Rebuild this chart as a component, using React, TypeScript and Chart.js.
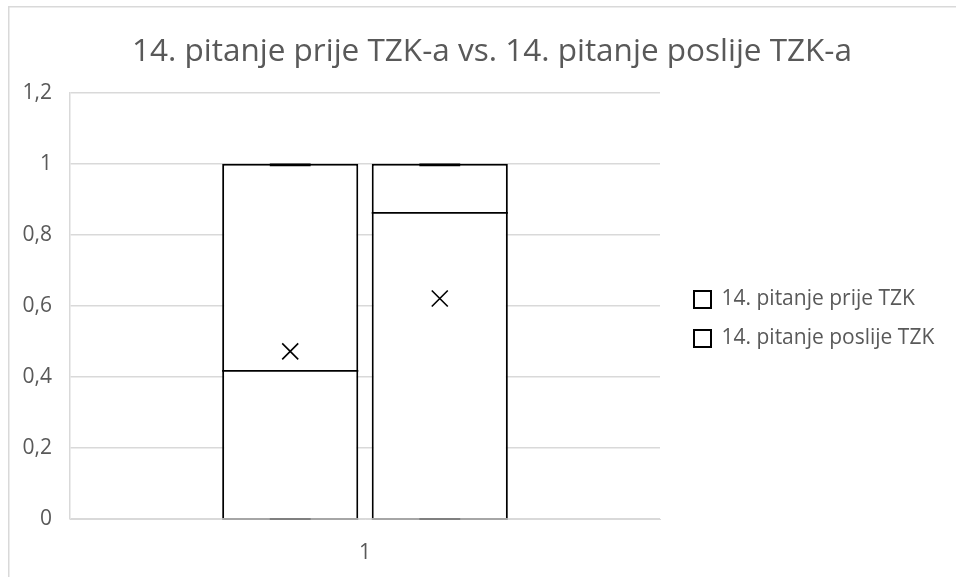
import React, { useEffect, useRef } from "react";
import { Chart, registerables } from "chart.js";

Chart.register(...registerables);

const categories = ["1"];
const seriesNames = ["14. pitanje prije TZK", "14. pitanje poslije TZK"];
const minValues = [0, 0];
const q1Values = [0, 0];
const medianValues = [0.417, 0.862];
const q3Values = [1, 1];
const maxValues = [1, 1];
const meanValues = [0.472, 0.621];
const yTickLabels = ["0", "0,2", "0,4", "0,6", "0,8", "1", "1,2"];
const titleText = "14. pitanje prije TZK-a vs. 14. pitanje poslije TZK-a";

const FONT = "'Open Sans', 'Noto Sans', sans-serif";
const TEXT = "#595959";
const GRID = "#d9d9d9";

const CANVAS_W = 968;
const CANVAS_H = 626;
const PLOT_LEFT = 62;
const PLOT_BOTTOM = 513;
const LEGEND_FONT = 21;
const LEGEND_BOX = 17;
const LEGEND_PAD = 18;
const LEGEND_BOX_X = 686;
const PLOT_RIGHT = 652;

const boxExtras = {
  id: "boxExtras",
  afterDatasetsDraw(chart: any) {
    const ctx = chart.ctx;
    const y = chart.scales.y;
    chart.data.datasets.forEach((_ds: any, i: number) => {
      const meta = chart.getDatasetMeta(i);
      meta.data.forEach((bar: any) => {
        const p = bar.getProps(["x", "width"], true);
        const left = p.x - p.width / 2;
        const right = p.x + p.width / 2;
        const capHalf = p.width * 0.15;
        ctx.save();
        const yQ1 = y.getPixelForValue(q1Values[i]);
        ctx.strokeStyle = "#a6a6a6";
        ctx.lineWidth = 2;
        ctx.beginPath();
        ctx.moveTo(left, yQ1);
        ctx.lineTo(right, yQ1);
        ctx.stroke();
        ctx.strokeStyle = "#7f7f7f";
        const yMin = y.getPixelForValue(minValues[i]);
        ctx.beginPath();
        ctx.moveTo(p.x - capHalf, yMin);
        ctx.lineTo(p.x + capHalf, yMin);
        ctx.stroke();
        ctx.strokeStyle = "#000";
        ctx.lineWidth = 2.6;
        const yMax = y.getPixelForValue(maxValues[i]);
        ctx.beginPath();
        ctx.moveTo(p.x - capHalf, yMax + 1);
        ctx.lineTo(p.x + capHalf, yMax + 1);
        ctx.stroke();
        const yMed = y.getPixelForValue(medianValues[i]);
        ctx.lineWidth = 1.8;
        ctx.beginPath();
        ctx.moveTo(left, yMed);
        ctx.lineTo(right, yMed);
        ctx.stroke();
        const yMean = y.getPixelForValue(meanValues[i]);
        const r = 8;
        ctx.lineWidth = 1.6;
        ctx.beginPath();
        ctx.moveTo(p.x - r, yMean - r);
        ctx.lineTo(p.x + r, yMean + r);
        ctx.moveTo(p.x + r, yMean - r);
        ctx.lineTo(p.x - r, yMean + r);
        ctx.stroke();
        ctx.restore();
      });
    });
  },
};

const frame = {
  id: "frame",
  beforeDraw(chart: any) {
    const ctx = chart.ctx;
    ctx.save();
    ctx.fillStyle = "#fff";
    ctx.fillRect(0, 0, chart.width, chart.height);
    ctx.restore();
  },
  afterDraw(chart: any) {
    const ctx = chart.ctx;
    ctx.save();
    ctx.strokeStyle = GRID;
    ctx.lineWidth = 1.5;
    ctx.strokeRect(0.75, 0.75, chart.width - 1.5, chart.height - 1.5);
    ctx.restore();
  },
};

function measureLegend(): number {
  const c = document.createElement("canvas").getContext("2d");
  if (!c) return 200;
  c.font = `normal ${LEGEND_FONT}px ${FONT}`;
  return Math.max(...seriesNames.map((s) => c.measureText(s).width));
}

export default function App() {
  const ref = useRef<HTMLCanvasElement | null>(null);
  useEffect(() => {
    if (!ref.current) return;
    const itemW = LEGEND_BOX + LEGEND_FONT / 2 + measureLegend();
    const legendLeft = LEGEND_BOX_X - LEGEND_PAD;
    const legendW = LEGEND_PAD + itemW + 10;
    const outerSpacer = Math.max(0, CANVAS_W - legendLeft - legendW);
    const innerGap = legendLeft - PLOT_RIGHT;
    const chart = new Chart(ref.current, {
      type: "bar",
      data: {
        labels: categories,
        datasets: seriesNames.map((name, i) => ({
          label: name,
          data: [[q1Values[i], q3Values[i]]],
          backgroundColor: "#ffffff",
          borderColor: "#000000",
          borderWidth: 2,
          borderSkipped: "start",
        })) as any,
      },
      options: {
        responsive: false,
        animation: false,
        categoryPercentage: 0.507,
        barPercentage: 0.91,
        layout: { padding: 0 },
        plugins: {
          title: {
            display: true,
            text: titleText,
            color: TEXT,
            font: { family: FONT, size: 31.5, weight: "normal" },
            padding: { top: 27, bottom: 22 },
          },
          legend: {
            position: "right",
            align: "center",
            maxWidth: 600,
            labels: {
              color: TEXT,
              font: { family: FONT, size: LEGEND_FONT },
              boxWidth: LEGEND_BOX,
              boxHeight: LEGEND_BOX,
              padding: LEGEND_PAD,
            },
          },
          tooltip: { enabled: false },
        },
        scales: {
          x: {
            grid: { display: false },
            border: { display: true, color: GRID },
            ticks: { color: TEXT, font: { family: FONT, size: 21 }, padding: 13 },
            afterFit: (s: any) => {
              s.height = CANVAS_H - PLOT_BOTTOM;
            },
          },
          y: {
            min: 0,
            max: 1.2,
            grid: { color: GRID, lineWidth: 1.5, drawTicks: false },
            border: { display: true, color: GRID, width: 1.5 },
            ticks: {
              stepSize: 0.2,
              color: TEXT,
              font: { family: FONT, size: 21 },
              padding: 18,
              callback: (_v: any, idx: number) => yTickLabels[idx],
            },
            afterFit: (s: any) => {
              s.width = PLOT_LEFT;
            },
          },
          gapInner: {
            type: "linear",
            position: "right",
            weight: 0,
            display: true,
            grid: { display: false },
            border: { display: false },
            ticks: { display: false },
            afterFit: (s: any) => {
              s.width = innerGap;
            },
          },
          gapOuter: {
            type: "linear",
            position: "right",
            weight: 3000,
            display: true,
            grid: { display: false },
            border: { display: false },
            ticks: { display: false },
            afterFit: (s: any) => {
              s.width = outerSpacer;
            },
          },
        },
      } as any,
      plugins: [frame, boxExtras],
    });
    return () => chart.destroy();
  }, []);
  return (
    <div
      style={{
        position: "fixed",
        left: 0,
        top: 0,
        width: 956,
        height: 577,
        overflow: "hidden",
        background: "#fff",
      }}
    >
      <div style={{ position: "absolute", left: 8, top: 6 }}>
        <canvas ref={ref} width={CANVAS_W} height={CANVAS_H} style={{ display: "block" }} />
      </div>
    </div>
  );
}
